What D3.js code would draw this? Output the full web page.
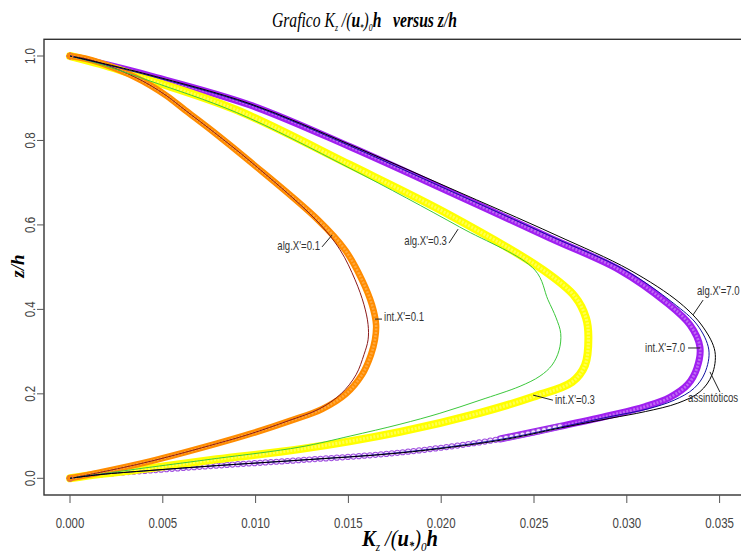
<!DOCTYPE html>
<html>
<head>
<meta charset="utf-8">
<script src="https://cdn.jsdelivr.net/npm/d3@7"></script>
<style>
  html, body { margin: 0; padding: 0; background: #fff; }
  svg { display: block; }
  .tick-label { font-family: "Liberation Sans", Arial, sans-serif; font-size: 14px; fill: #444; }
  .note { font-family: "Liberation Sans", Arial, sans-serif; font-size: 12px; fill: #333; }
  .serif { font-family: "Liberation Serif", "Times New Roman", serif; font-style: italic; font-weight: bold; fill: #000; }
</style>
</head>
<body>
<svg id="chart" width="741" height="554"></svg>
<script>
// Axis ticks
const xTicks = [0, 0.005, 0.010, 0.015, 0.020, 0.025, 0.030, 0.035];
const yTicks = [0, 0.2, 0.4, 0.6, 0.8, 1.0];

// Each profile is a list of [Kz/(u*)0 h, z/h] pairs, from the top (z/h = 1) down to the ground
const intX01 = [[0,1],[0.00081,0.994],[0.00162,0.984],[0.00269,0.966],[0.00350,0.950],[0.00431,0.931],
  [0.00523,0.905],[0.0062,0.872],[0.0078,0.818],[0.0097,0.750],
  [0.01336,0.612],[0.01482,0.541],[0.01573,0.470],[0.01627,0.411],[0.01649,0.364],[0.01643,0.328],
  [0.01622,0.293],[0.01573,0.245],[0.01487,0.200],[0.01358,0.164],[0.01185,0.136],[0.0097,0.105],
  [0.0079,0.082],[0.00431,0.040],[0.00162,0.014],[0,0]];
const algX01 = [[0,1],[0.00081,0.994],[0.00162,0.984],[0.00269,0.966],[0.00350,0.950],[0.00431,0.931],
  [0.00523,0.905],[0.0062,0.872],[0.0078,0.818],[0.0097,0.751],
  [0.01325,0.612],[0.01455,0.541],[0.01536,0.470],[0.01584,0.411],[0.01606,0.364],[0.01606,0.328],
  [0.01584,0.293],[0.01541,0.245],[0.0146,0.200],[0.01342,0.164],[0.01175,0.136],[0.0097,0.105],
  [0.0079,0.082],[0.00431,0.040],[0.00162,0.014],[0,0]];
const intX03 = [[0,1],[0.00162,0.981],[0.00431,0.943],[0.00898,0.872],[0.01509,0.742],[0.02047,0.623],
  [0.0255,0.493],[0.02721,0.430],[0.0278,0.380],[0.02793,0.335],[0.02775,0.268],[0.02705,0.228],
  [0.02496,0.193],[0.02209,0.155],[0.01778,0.110],[0.01239,0.069],[0.0079,0.045],[0.00431,0.024],
  [0.00162,0.010],[0,0]];
const algX03 = [[0,1],[0.0016,0.981],[0.0043,0.941],[0.00898,0.866],[0.01509,0.734],[0.0210,0.595],
  [0.02505,0.493],[0.02575,0.423],[0.02619,0.380],[0.02644,0.343],[0.02635,0.303],[0.02597,0.268],
  [0.02532,0.242],[0.02425,0.218],[0.02209,0.185],[0.01993,0.154],[0.01778,0.128],[0.01509,0.100],
  [0.01239,0.074],[0.0079,0.047],[0.00431,0.0262],[0.00162,0.010],[0,0]];
const intX70 = [[0,1],[0.00162,0.983],[0.00431,0.953],[0.0097,0.884],[0.01509,0.785],[0.02047,0.678],
  [0.02586,0.569],[0.02963,0.493],[0.03217,0.415],[0.03341,0.363],[0.03394,0.311],[0.03378,0.261],
  [0.0333,0.223],[0.03233,0.192],[0.031,0.170],[0.02909,0.149],[0.02640,0.123],[0.02317,0.093],
  [0.01778,0.061],[0.01239,0.043],[0.0079,0.030],[0.00431,0.0185],[0.00162,0.0090],[0,0]];
const algX70 = [[0,1],[0.00162,0.983],[0.00431,0.953],[0.0097,0.885],[0.01509,0.787],[0.02047,0.681],
  [0.02586,0.574],[0.0299,0.493],[0.0325,0.415],[0.0338,0.363],[0.03442,0.304],[0.03421,0.250],
  [0.03362,0.213],[0.03255,0.185],[0.0311,0.164],[0.02909,0.146],[0.02640,0.121],[0.02317,0.092],
  [0.01778,0.061],[0.01239,0.043],[0.0079,0.030],[0.00431,0.0185],[0.00162,0.0090],[0,0]];
const assint = [[0,1],[0.00162,0.984],[0.00431,0.955],[0.0097,0.887],[0.01509,0.790],[0.02047,0.687],
  [0.02613,0.577],[0.03017,0.493],[0.03287,0.415],[0.03411,0.358],[0.03475,0.300],[0.03459,0.245],
  [0.03394,0.205],[0.03275,0.178],[0.031,0.158],[0.02909,0.142],[0.02640,0.119],[0.02317,0.090],
  [0.01778,0.060],[0.01239,0.043],[0.0079,0.030],[0.00431,0.0185],[0.00162,0.0088],[0,0]];

// Curve labels: text, anchor point, leader segment (all in data units)
const notes = [
  {text: "alg.X'=0.1", at: [0.01347, 0.550], anchor: "end", lead: [[0.01358, 0.548], [0.01412, 0.576]]},
  {text: "alg.X'=0.3", at: [0.02031, 0.562], anchor: "end", lead: [[0.02042, 0.557], [0.02091, 0.590]]},
  {text: "int.X'=0.1", at: [0.01692, 0.382], anchor: "start", lead: [[0.01643, 0.377], [0.01681, 0.377]]},
  {text: "int.X'=0.3", at: [0.02613, 0.185], anchor: "start", lead: [[0.02602, 0.185], [0.02495, 0.197]]},
  {text: "alg.X'=7.0", at: [0.03378, 0.444], anchor: "start", lead: [[0.03411, 0.422], [0.03357, 0.387]]},
  {text: "int.X'=7.0", at: [0.03314, 0.310], anchor: "end", lead: [[0.0333, 0.3086], [0.03394, 0.3086]]},
  {text: "assintóticos", at: [0.0333, 0.191], anchor: "start", lead: [[0.03502, 0.204], [0.03448, 0.252]]}
];

const svg = d3.select("#chart");
const x = d3.scaleLinear().domain([0, 0.035]).range([70, 719.6]);
const y = d3.scaleLinear().domain([0, 1]).range([478.3, 56]);
const frame = {left: 44, top: 39.3, right: 749, bottom: 495};

const line = d3.line().x(d => x(d[0])).y(d => y(d[1])).curve(d3.curveCatmullRom.alpha(0.5));

// Horizontally condense a text element around a fixed x so the glyphs look like a narrow face
function condense(sel, ax, s) {
  sel.attr("transform", `translate(${ax},0) scale(${s},1) translate(${-ax},0)`);
}

// Thick "integrated" profiles: a dense chain of open circles reads as a solid band
function band(data, color, inner, width) {
  svg.append("path").attr("d", line(data)).attr("fill", "none")
    .attr("stroke", color).attr("stroke-width", width)
    .attr("stroke-linecap", "round").attr("stroke-linejoin", "round");
  svg.append("path").attr("d", line(data)).attr("fill", "none")
    .attr("stroke", inner).attr("stroke-width", width * 0.4).attr("stroke-opacity", 0.55)
    .attr("stroke-dasharray", "2 1.5");
}
// Where the points spread out, the circles show individually
function rings(data, color, r, gap) {
  svg.append("path").attr("d", line(data)).attr("fill", "none")
    .attr("stroke", color).attr("stroke-width", 2 * r + 1)
    .attr("stroke-linecap", "round").attr("stroke-dasharray", `0 ${gap}`);
  svg.append("path").attr("d", line(data)).attr("fill", "none")
    .attr("stroke", "#fff").attr("stroke-width", 2 * r - 1).attr("stroke-opacity", 0.85)
    .attr("stroke-linecap", "round").attr("stroke-dasharray", `0 ${gap}`);
}
const split = intX70.findIndex(d => d[1] < 0.095 && d[0] < 0.0235);
band(intX70.slice(0, split + 1), "#A020F0", "#D9A6F5", 7);
rings(intX70.slice(split - 1), "#A050E0", 2.6, 5.5);
band(intX03, "#FFFF00", "#FFFF99", 8);
band(intX01, "#FF8C00", "#FFC070", 6.5);

// Thin algebraic and asymptotic profiles
function thin(data, color, w) {
  svg.append("path").attr("d", line(data)).attr("fill", "none")
    .attr("stroke", color).attr("stroke-width", w);
}
thin(algX01, "#8B1A1A", 1);
thin(algX03, "#3CC83C", 1);
thin(algX70, "#1010A0", 1);
thin(assint, "#000", 1);

// End markers
[[intX70, "#A020F0"], [intX01, "#FF8C00"]].forEach(([d, c]) => {
  [d[0], d[d.length - 1]].forEach(p => {
    svg.append("circle").attr("cx", x(p[0])).attr("cy", y(p[1])).attr("r", 3)
      .attr("fill", "none").attr("stroke", c).attr("stroke-width", 1);
  });
});

// Frame
svg.append("rect").attr("x", frame.left).attr("y", frame.top)
  .attr("width", frame.right - frame.left).attr("height", frame.bottom - frame.top)
  .attr("fill", "none").attr("stroke", "#333").attr("stroke-width", 1.4);

// X axis ticks and labels
const xa = svg.append("g");
xTicks.forEach(t => {
  xa.append("line").attr("x1", x(t)).attr("x2", x(t)).attr("y1", frame.bottom).attr("y2", frame.bottom + 8)
    .attr("stroke", "#555").attr("stroke-width", 1);
  const lbl = xa.append("text").attr("class", "tick-label").attr("x", x(t)).attr("y", 528)
    .attr("text-anchor", "middle").text(d3.format(".3f")(t));
  condense(lbl, x(t), 0.82);
});
// Y axis ticks and labels
const ya = svg.append("g");
yTicks.forEach(t => {
  ya.append("line").attr("x1", frame.left - 7).attr("x2", frame.left).attr("y1", y(t)).attr("y2", y(t))
    .attr("stroke", "#555").attr("stroke-width", 1);
  ya.append("text").attr("class", "tick-label")
    .attr("transform", `translate(35,${y(t)}) rotate(-90) scale(0.82,1)`)
    .attr("text-anchor", "middle").text(d3.format(".1f")(t));
});

// Curve labels with leaders
notes.forEach(n => {
  svg.append("line").attr("x1", x(n.lead[0][0])).attr("y1", y(n.lead[0][1]))
    .attr("x2", x(n.lead[1][0])).attr("y2", y(n.lead[1][1]))
    .attr("stroke", "#222").attr("stroke-width", 1);
  const t = svg.append("text").attr("class", "note").attr("x", x(n.at[0])).attr("y", y(n.at[1]))
    .attr("dy", "0.35em").attr("text-anchor", n.anchor).text(n.text);
  condense(t, x(n.at[0]), 0.8);
});

// Fit a text element into a given width starting at x0
function fitWidth(sel, x0, w) {
  const len = sel.node().getComputedTextLength();
  condense(sel, x0, w / len);
}

// Title
const title = svg.append("text").attr("class", "serif").attr("x", 272).attr("y", 27)
  .attr("font-size", 20);
title.append("tspan").attr("font-weight", "normal").text("Grafico K");
title.append("tspan").attr("font-size", 10).attr("dy", 4).attr("font-weight", "normal").text("z");
title.append("tspan").attr("dy", -4).attr("font-weight", "normal").text(" /(");
title.append("tspan").text("u");
title.append("tspan").attr("font-size", 9).attr("dy", 3).text("*");
title.append("tspan").attr("dy", -3).attr("font-weight", "normal").text(")");
title.append("tspan").attr("font-size", 10).attr("dy", 4).attr("font-weight", "normal").text("0");
title.append("tspan").attr("dy", -4).text("h\u00a0\u00a0\u00a0versus z");
title.append("tspan").attr("font-weight", "normal").text("/");
title.append("tspan").text("h");
fitWidth(title, 272, 185);

// X axis title
const xl = svg.append("text").attr("class", "serif").attr("x", 362).attr("y", 546)
  .attr("font-size", 24);
xl.append("tspan").text("K");
xl.append("tspan").attr("font-size", 13).attr("dy", 5).attr("font-weight", "normal").text("z");
xl.append("tspan").attr("dy", -5).attr("font-weight", "normal").text(" /(");
xl.append("tspan").text("u");
xl.append("tspan").attr("font-size", 12).attr("dy", 4).text("*");
xl.append("tspan").attr("dy", -4).attr("font-weight", "normal").text(")");
xl.append("tspan").attr("font-size", 13).attr("dy", 5).attr("font-weight", "normal").text("0");
xl.append("tspan").attr("dy", -5).text("h");
fitWidth(xl, 362, 76);

// Y axis title
const yl = svg.append("text").attr("class", "serif")
  .attr("transform", "translate(24,266) rotate(-90)").attr("text-anchor", "middle")
  .attr("font-size", 19);
yl.append("tspan").text("z");
yl.append("tspan").attr("font-weight", "normal").text("/");
yl.append("tspan").text("h");
</script>
</body>
</html>
